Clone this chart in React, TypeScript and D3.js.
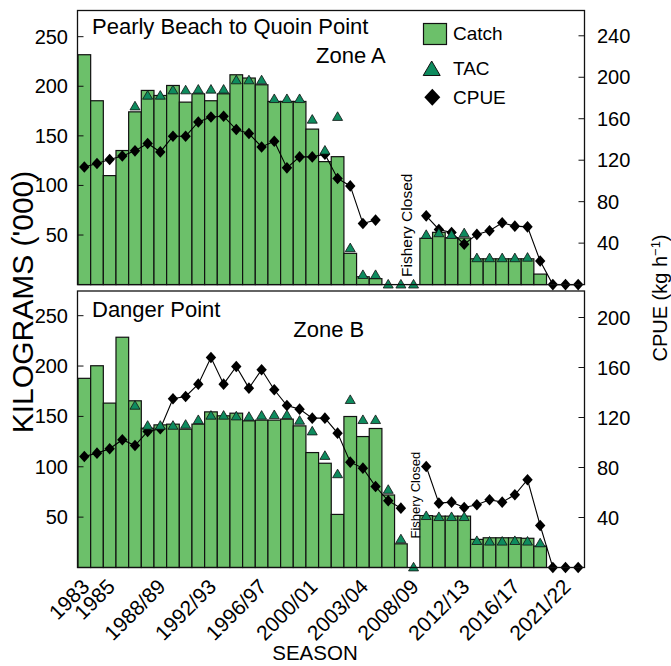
import React from 'react';
import * as d3 from 'd3';

const seasons = [
  '1983', '1984', '1985', '1986', '1987', '1988', '1988/89', '1989/90', '1990/91', '1991/92',
  '1992/93', '1993/94', '1994/95', '1995/96', '1996/97', '1997/98', '1998/99', '1999/00', '2000/01', '2001/02',
  '2002/03', '2003', '2003/04', '2004/05', '2005/06', '2006/07', '2008/09', '2009/10', '2010/11', '2011/12',
  '2012/13', '2013/14', '2014/15', '2015/16', '2016/17', '2017/18', '2018/19', '2019/20', '2021/22', '2022/23',
];
const tickSeasons = ['1983', '1985', '1988/89', '1992/93', '1996/97', '2000/01', '2003/04', '2008/09', '2012/13', '2016/17', '2021/22'];

// Zone A (Pearly Beach to Quoin Point)
const catchA = [
  231.8, 185.4, 109.9, 135.2, 174.2, 195.8, 190.7, 200.8, 184, 192.4,
  185.4, 192.4, 211.6, 208.3, 201.5, 184.7, 184.7, 184.7, 156.8, 124,
  129, 31.5, 7.9, 6, 0, 0, 0, 46.7, 52.7, 47.3,
  47, 26, 26, 26, 26, 26, 10.6, 0, 0, 0,
];
const tacA = [
  null, null, null, null, 179.6, 190.4, 190.4, 195.8, 195.8, 196.5,
  196.5, 196.5, 205.9, 205.9, 205.9, 187, 187, 187, 166.2, 135,
  169, 36.6, 9.6, 9.6, 0, 0, 0, 50, 51.7, 50,
  51.7, 26.5, 26.5, 26.5, 26.5, 27, null, null, null, null,
];
const cpueA = [
  113.5, 116.8, 120.7, 124.1, 129, 136.1, 128, 143.1, 143.1, 156.9,
  161.7, 162.4, 149.6, 145.7, 132.8, 138.3, 112.6, 123.2, 123.2, 125.8,
  102.4, 95.2, 59, 62.2, null, null, null, 66.3, 53.2, 50.3,
  39, 48.4, 51.9, 59.6, 56.4, 55.7, 22.7, 0, 0, 0,
];

// Zone B (Danger Point)
const catchB = [
  187.8, 200.3, 163.2, 228.6, 165.5, 138.3, 141.6, 142.3, 137.3, 142.3,
  154.5, 150.6, 153.2, 145.6, 146.3, 146.3, 147.3, 140.6, 114.1, 103.5,
  52.7, 149.9, 130, 138, 72, 23.5, 0, 51.5, 51, 51,
  51, 27.9, 29.5, 29.5, 29.5, 29, 21.2, 0, 0, 0,
];
const tacB = [
  null, null, null, null, 160.5, 140.6, 140.6, 140.6, 141.6, 146.3,
  150.6, 150.6, 149.9, 149.5, 150.6, 151.2, 151.2, 145.6, 135, 110.7,
  92.5, 166.2, 146.3, 146.3, 77, 27.9, 0, 51, 50, 50,
  50, 26.2, 25.6, 25.6, 26.2, 25.6, 23.9, null, null, null,
];
const cpueB = [
  88.8, 91.5, 95, 102.2, 97.6, 108.8, 111, 135, 136.8, 146.7,
  168, 146.7, 160.8, 143.5, 158.2, 142.2, 129.6, 126.7, 119.5, 119.5,
  107.5, 84.3, 79.5, 64.8, 53.4, 47.5, null, 80.8, 51.5, 52.3,
  48, 50.2, 54.2, 52.3, 58.2, 70.2, 33.6, 0, 0, 0,
];

const kgTicks = [50, 100, 150, 200, 250];
const cpueTicksA = [40, 80, 120, 160, 200, 240];
const cpueTicksB = [40, 80, 120, 160, 200];
const legendItems = ['Catch', 'TAC', 'CPUE'];

const FONT = "'Liberation Sans', Arial, Helvetica, sans-serif";
const BAR = '#6cc06a';
const TRI = '#0e8b5e';
const X0 = 77.5;
const X1 = 584.5;

const x = d3.scaleBand<string>().domain(seasons).range([78, 584.5]).padding(0);

const trianglePath = 'M0,-5.2L5,3.4L-5,3.4Z';
const diamondPath = 'M0,-5.8L5.2,0L0,5.8L-5.2,0Z';

type PanelProps = {
  top: number;
  bottom: number;
  kgMax: number;
  cpueMax: number;
  cpueTicks: number[];
  catchV: number[];
  tacV: (number | null)[];
  cpueV: (number | null)[];
  title: string;
  titleY: number;
  zone: string;
  zoneX: number;
  zoneY: number;
  closedX: number;
  closedY: number;
  closedSize: number;
  legend?: boolean;
};

function Panel(p: PanelProps) {
  const yL = d3.scaleLinear().domain([0, p.kgMax]).range([p.bottom, p.top]);
  const yR = d3.scaleLinear().domain([0, p.cpueMax]).range([p.bottom, p.top]);
  const bw = x.bandwidth();
  const cx = (i: number) => (x(seasons[i]) as number) + bw / 2;
  const line = d3
    .line<number | null>()
    .defined((d) => d != null)
    .x((_, i) => cx(i))
    .y((d) => yR(d as number));
  return (
    <g>
      {p.catchV.map((v, i) =>
        v > 0 ? (
          <rect
            key={'b' + i}
            x={x(seasons[i])}
            y={yL(v)}
            width={bw}
            height={p.bottom - yL(v)}
            fill={BAR}
            stroke="#111"
            strokeWidth={1.2}
          />
        ) : null
      )}
      <path d={line(p.cpueV) || ''} fill="none" stroke="#000" strokeWidth={1.1} />
      {p.cpueV.map((v, i) =>
        v == null ? null : (
          <path key={'d' + i} d={diamondPath} transform={`translate(${cx(i)},${yR(v)})`} fill="#000" />
        )
      )}
      {p.tacV.map((v, i) =>
        v == null ? null : (
          <path
            key={'t' + i}
            d={trianglePath}
            transform={`translate(${cx(i)},${yL(v)})`}
            fill={TRI}
            stroke="#111"
            strokeWidth={0.8}
          />
        )
      )}
      <rect x={X0} y={p.top} width={X1 - X0} height={p.bottom - p.top} fill="none" stroke="#111" strokeWidth={1.3} />
      {kgTicks.map((t) => (
        <g key={'l' + t}>
          <line x1={X0} x2={X0 + 6} y1={yL(t)} y2={yL(t)} stroke="#111" strokeWidth={1} />
          <text x={68} y={yL(t)} dy="0.35em" textAnchor="end" fontSize={20} fontFamily={FONT}>
            {t}
          </text>
        </g>
      ))}
      {p.cpueTicks.map((t) => (
        <g key={'r' + t}>
          <line x1={X1 - 6} x2={X1} y1={yR(t)} y2={yR(t)} stroke="#111" strokeWidth={1} />
          <text x={597} y={yR(t)} dy="0.35em" textAnchor="start" fontSize={20} fontFamily={FONT}>
            {t}
          </text>
        </g>
      ))}
      <text x={92} y={p.titleY} fontSize={22} fontFamily={FONT}>
        {p.title}
      </text>
      <text x={p.zoneX} y={p.zoneY} fontSize={22} fontFamily={FONT}>
        {p.zone}
      </text>
      <text
        transform={`translate(${p.closedX},${p.closedY}) rotate(-90)`}
        fontSize={p.closedSize}
        fontFamily={FONT}
      >
        Fishery Closed
      </text>
      {p.legend ? (
        <g fontFamily={FONT} fontSize={19}>
          <rect x={423.5} y={23.5} width={23} height={21} fill={BAR} stroke="#111" strokeWidth={1.2} />
          <text x={453} y={40}>
            {legendItems[0]}
          </text>
          <path d="M0,-8L8.5,6.5L-8.5,6.5Z" transform="translate(431.7,69)" fill={TRI} stroke="#111" strokeWidth={1} />
          <text x={453} y={75}>
            {legendItems[1]}
          </text>
          <path d="M0,-8.5L8,0L0,8.5L-8,0Z" transform="translate(432.3,97.3)" fill="#000" />
          <text x={453} y={104}>
            {legendItems[2]}
          </text>
        </g>
      ) : null}
    </g>
  );
}

export default function App() {
  const bottom = 567.5;
  const bw = x.bandwidth();
  return (
    <svg width={671} height={666} style={{ display: 'block', position: 'absolute', left: 0, top: 0 }}>
      <rect x={0} y={0} width={671} height={666} fill="#fff" />
      <Panel
        top={10.5}
        bottom={284.6}
        kgMax={276.4}
        cpueMax={264.4}
        cpueTicks={cpueTicksA}
        catchV={catchA}
        tacV={tacA}
        cpueV={cpueA}
        title="Pearly Beach to Quoin Point"
        titleY={33.5}
        zone="Zone A"
        zoneX={316}
        zoneY={62.7}
        closedX={411.5}
        closedY={277}
        closedSize={15.5}
        legend
      />
      <Panel
        top={291}
        bottom={bottom}
        kgMax={274.5}
        cpueMax={221.2}
        cpueTicks={cpueTicksB}
        catchV={catchB}
        tacV={tacB}
        cpueV={cpueB}
        title="Danger Point"
        titleY={316.7}
        zone="Zone B"
        zoneX={293.3}
        zoneY={337.3}
        closedX={419.5}
        closedY={538.5}
        closedSize={13}
      />
      {tickSeasons.map((s) => {
        const px = (x(s) as number) + bw / 2;
        return (
          <text
            key={'x' + s}
            transform={`translate(${px + 6.5},${588}) rotate(-45)`}
            textAnchor="end"
            fontSize={21}
            fontFamily={FONT}
          >
            {s}
          </text>
        );
      })}
      <text x={315} y={660} textAnchor="middle" fontSize={20.5} fontFamily={FONT}>
        SEASON
      </text>
      <text transform="translate(33,302) rotate(-90)" textAnchor="middle" fontSize={30} fontFamily={FONT}>
        KILOGRAMS ('000)
      </text>
      <text transform="translate(667,298) rotate(-90)" textAnchor="middle" fontSize={20} fontFamily={FONT}>
        CPUE (kg h
        <tspan dy={-7} fontSize={13}>
          −1
        </tspan>
        <tspan dy={7}>)</tspan>
      </text>
    </svg>
  );
}
